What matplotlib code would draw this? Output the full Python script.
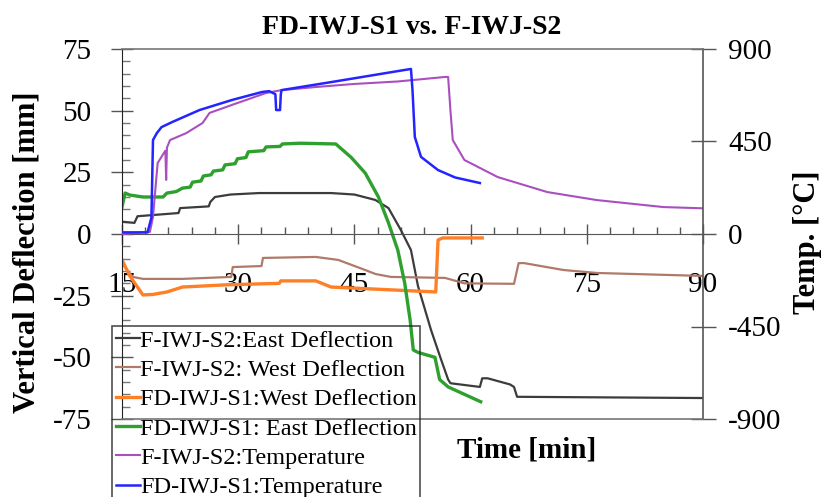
import matplotlib
matplotlib.use("Agg")
import matplotlib.pyplot as plt
import numpy as np

plt.rcParams['font.family'] = ['Liberation Serif', 'DejaVu Serif']
plt.rcParams['axes.unicode_minus'] = False

# F-IWJ-S2 east deflection (mm)
s2_east_t = [15, 16.6, 17.0, 22.3, 22.5, 26.2, 26.4, 27.0, 29.0, 32.7, 42.0, 45.0, 47.7,
             49.4, 51.0, 52.3, 53.2, 54.9, 56.2, 57.1, 57.4, 61.2, 61.5, 62.2, 65.1, 65.6,
             66.0, 90]
s2_east = [5, 4.5, 7.2, 8.5, 10.5, 11.2, 13.0, 15.0, 16.0, 16.6, 16.6, 16.0, 13.8,
           10.5, 1.6, -6.5, -21, -39, -51, -59, -60.5, -62, -58.5, -58.5, -61, -62,
           -66, -66.5]

# F-IWJ-S2 west deflection (mm)
s2_west_t = [15, 16.4, 17.7, 22.8, 29.1, 29.3, 33.0, 33.2, 40.0, 42.9, 46.4, 47.7, 49.7,
             56.7, 59.2, 65.6, 66.2, 66.9, 72.0, 76.3, 90]
s2_west = [-12, -17.4, -18.2, -18.2, -17.4, -13.4, -13.0, -9.7, -9.3, -10.5, -14.6, -16.2,
           -17.4, -17.8, -20.0, -20.2, -11.8, -11.8, -14.6, -15.8, -17.0]

# FD-IWJ-S1 west deflection (mm)
s1_west_t = [15, 16.0, 17.7, 19.0, 20.8, 22.8, 28.5, 35.3, 35.5, 40.0, 42.0, 55.5, 55.8,
             56.4, 61.5]
s1_west = [-10.5, -17.0, -24.7, -24.5, -23.5, -21.5, -20.6, -20.0, -19.0, -19.0, -21.5,
           -23.5, -2.4, -1.6, -1.6]

# FD-IWJ-S1 east deflection (mm)
s1_east_t = [15, 15.4, 16.0, 17.7, 20.3, 20.8, 22.0, 22.8, 23.8, 24.1, 25.2, 25.5, 26.5,
             26.8, 28.0, 28.3, 29.6, 29.9, 31.0, 31.3, 33.3, 33.6, 35.4, 35.7, 38.0, 42.6,
             44.6, 46.4, 48.1, 49.4, 50.6, 51.5, 52.2, 52.6, 53.2, 55.4, 56.0, 57.1, 61.3]
s1_east = [11, 16.6, 15.8, 15.0, 15.0, 16.6, 17.2, 18.6, 19.0, 21.0, 21.5, 23.5, 24.0,
           25.5, 26.0, 28.0, 28.5, 30.5, 31.0, 33.3, 33.8, 35.3, 35.5, 36.5, 36.8, 36.5,
           31.0, 24.7, 15.0, 4.5, -6.5, -20, -35, -47, -48, -50, -59, -62, -68]

# F-IWJ-S2 temperature (C)
s2_temp_t = [15, 18.6, 19.0, 19.6, 20.4, 20.6, 20.7, 20.8, 21.2, 23.3, 25.4, 26.3, 29.2,
             33.6, 35.6, 40.0, 45.0, 50.6, 56.7, 57.1, 57.4, 57.7, 59.2, 63.5, 69.9, 76.3,
             84.9, 90]
s2_temp = [0, 10, 83, 345, 394, 405, 263, 420, 457, 491, 540, 589, 628, 686, 700, 715, 730,
           742, 764, 764, 600, 457, 360, 277, 204, 165, 131, 125]

# FD-IWJ-S1 temperature (C)
s1_temp_t = [15, 18.3, 18.8, 19.0, 19.5, 20.1, 21.5, 25.0, 29.2, 33.1, 34.0, 34.8, 34.9,
             35.4, 35.5, 35.6, 42.0, 52.3, 52.5, 52.8, 53.6, 55.8, 58.0, 61.2]
s1_temp = [8, 8, 80, 457, 491, 520, 545, 603, 652, 691, 695, 680, 603, 603, 680, 700, 739,
           803, 700, 472, 375, 311, 275, 248]

labels = ["F-IWJ-S2:East Deflection", "F-IWJ-S2: West Deflection",
          "FD-IWJ-S1:West Deflection", "FD-IWJ-S1: East Deflection",
          "F-IWJ-S2:Temperature", "FD-IWJ-S1:Temperature"]

fig = plt.figure(figsize=(8.23, 4.97), dpi=100)
ax = fig.add_axes([122 / 823, 1 - 419 / 497, 581 / 823, 370 / 497])
ax2 = ax.twinx()

l1, = ax.plot(s2_east_t, s2_east, color="#3c3c3c", lw=1.6)
l2, = ax.plot(s2_west_t, s2_west, color="#b07a68", lw=1.6)
l3, = ax.plot(s1_west_t, s1_west, color="#ff7f27", lw=2.4)
l4, = ax.plot(s1_east_t, s1_east, color="#2ea02e", lw=2.4)
l5, = ax2.plot(s2_temp_t, s2_temp, color="#a94fc0", lw=1.5)
l6, = ax2.plot(s1_temp_t, s1_temp, color="#2424ff", lw=1.8)

ax.set_xlim(15, 90)
ax.set_ylim(-75, 75)
ax2.set_ylim(-900, 900)

ax.spines['bottom'].set_position(('data', 0))
ax.spines['bottom'].set_color('#555555')
ax.spines['top'].set_visible(False)
ax.spines['right'].set_visible(False)
ax.spines['left'].set_color('#222222')
ax2.spines['left'].set_visible(False)
ax2.spines['top'].set_color('#777777')
ax2.spines['bottom'].set_color('#777777')
ax2.spines['right'].set_color('#555555')
for sp in ax2.spines.values():
    sp.set_linewidth(1.2)

ax.set_xticks(np.arange(15, 91, 15))
ax.set_xticks(np.arange(15, 91, 3), minor=True)
ax.set_yticks(np.arange(-75, 76, 25))
ax.set_yticks(np.arange(-75, 76, 5), minor=True)
ax2.set_yticks(np.arange(-900, 901, 450))

ax.tick_params(axis='x', which='major', direction='inout', length=14, width=1,
               labelsize=21, pad=20, color='#555555')
ax.tick_params(axis='x', which='minor', direction='in', length=5, width=1, color='#555555')
ax.tick_params(axis='y', which='major', direction='inout', length=16, width=1,
               labelsize=21, pad=14, color='#555555')
ax.tick_params(axis='y', which='minor', direction='in', length=6, width=1, color='#777777')
ax2.tick_params(axis='y', which='major', direction='inout', length=18, width=1,
                labelsize=21, pad=9, color='#555555')
ax2.tick_params(axis='x', which='both', bottom=False, top=False, labelbottom=False)

fig.text(412 / 823, 1 - 27 / 497, "FD-IWJ-S1 vs. F-IWJ-S2", ha='center', va='center',
         fontsize=20, fontweight='bold')
fig.text(27 / 823, 1 - 252 / 497, "Vertical Deflection [mm]", rotation=90, ha='center',
         va='center', fontsize=22, fontweight='bold')
fig.text(808 / 823, 1 - 242 / 497, "Temp. [°C]", rotation=90, ha='center', va='center',
         fontsize=22, fontweight='bold')
fig.text(527 / 823, 1 - 450 / 497, "Time [min]", ha='center', va='center',
         fontsize=21, fontweight='bold')

leg = fig.legend([l1, l2, l3, l4, l5, l6], labels, loc='upper left',
                 bbox_to_anchor=(112 / 823, 1 - 326 / 497), borderaxespad=0,
                 fontsize=17.5, handlelength=1.0, handletextpad=0.0, labelspacing=0.3,
                 borderpad=0.15, fancybox=False, facecolor='none', framealpha=None)
leg.get_frame().set_edgecolor('#222222')
leg.get_frame().set_linewidth(1.2)

fig.savefig("out.png", dpi=100)
